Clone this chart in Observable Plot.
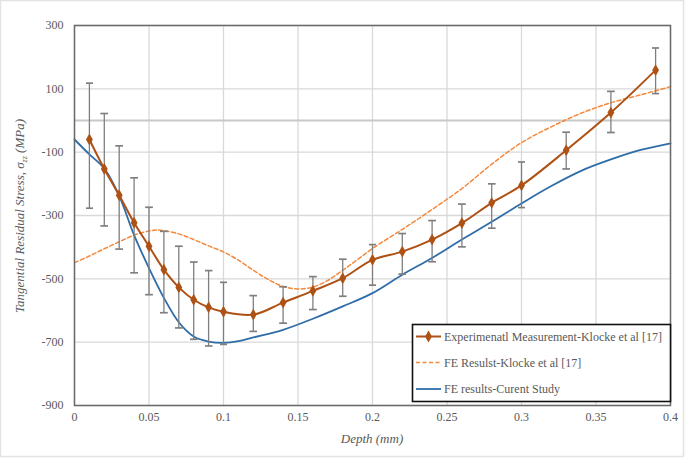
<!DOCTYPE html>
<html>
<head>
<meta charset="utf-8">
<script src="https://cdn.jsdelivr.net/npm/d3@7"></script>
<script src="https://cdn.jsdelivr.net/npm/@observablehq/plot@0.6"></script>
<style>
  html, body { margin: 0; padding: 0; background: #fff; }
  #chart { width: 685px; height: 458px; }
  #chart svg, #chart svg text, #chart svg tspan { font-family: "Liberation Serif", Times, "DejaVu Serif", serif !important; }
</style>
</head>
<body>
<div id="chart"></div>
<script>
// ---- Data ----
const xTicks = [0, 0.05, 0.1, 0.15, 0.2, 0.25, 0.3, 0.35, 0.4];
const yTicks = [-900, -700, -500, -300, -100, 100, 300];

// Experimental Measurement - Klocke et al [17]
const expDepth = [0.01, 0.02, 0.03, 0.04, 0.05, 0.06, 0.07, 0.08, 0.09, 0.10, 0.12, 0.14, 0.16, 0.18, 0.20, 0.22, 0.24, 0.26, 0.28, 0.30, 0.33, 0.36, 0.39];
const expStress = [-60, -153, -236, -323, -397, -471, -527, -566, -590, -604, -613, -575, -538, -498, -440, -414, -376, -324, -260, -205, -94, 25, 159];
const expHigh = [118, 22, -80, -181, -274, -350, -397, -447, -474, -511, -553, -525, -493, -438, -392, -357, -316, -264, -200, -131, -37, 92, 229];
const expLow = [-277, -333, -406, -481, -550, -607, -655, -691, -712, -707, -666, -640, -597, -555, -520, -485, -446, -399, -340, -275, -153, -38, 85];

// FE Results - Klocke et al [17]
const feKlockeDepth = [0, 0.01, 0.02, 0.03, 0.04, 0.05, 0.055, 0.06, 0.07, 0.08, 0.09, 0.10, 0.11, 0.12, 0.13, 0.14, 0.15, 0.16, 0.17, 0.18, 0.19, 0.20, 0.22, 0.24, 0.26, 0.28, 0.30, 0.32, 0.34, 0.36, 0.38, 0.40];
const feKlockeStress = [-449, -428, -405, -383, -362, -349, -346, -348, -358, -376, -396, -415, -441, -473, -502, -524, -532, -526, -505, -473, -439, -404, -344, -281, -215, -138, -70, -20, 23, 56, 81, 107];

// FE results - Current Study
const feCurrentDepth = [0, 0.01, 0.02, 0.03, 0.04, 0.05, 0.06, 0.07, 0.08, 0.09, 0.10, 0.11, 0.12, 0.14, 0.16, 0.18, 0.20, 0.22, 0.24, 0.26, 0.28, 0.30, 0.32, 0.34, 0.36, 0.38, 0.40];
const feCurrentStress = [-60, -107, -152, -238, -362, -466, -560, -637, -682, -698, -702, -697, -685, -661, -626, -587, -545, -487, -434, -376, -320, -262, -207, -159, -123, -93, -72];

const seriesNames = ["Experimenatl Measurement-Klocke et al [17]", "FE Resulst-Klocke et al [17]", "FE results-Curent Study"];
const seriesColors = ["#AE5114", "#F4883A", "#2F6DA8"];

// ---- Tables built from the arrays ----
const exp = expDepth.map((d, i) => ({x: d, y: expStress[i], hi: expHigh[i], lo: expLow[i]}));
const feK = feKlockeDepth.map((d, i) => ({x: d, y: feKlockeStress[i]}));
const feC = feCurrentDepth.map((d, i) => ({x: d, y: feCurrentStress[i]}));

const fmtX = d => String(+d.toFixed(2));
const fmtY = d => String(d);
const FONT = "'Liberation Serif', Times, 'DejaVu Serif', serif";

const chart = Plot.plot({
  width: 685,
  height: 458,
  marginLeft: 74,
  marginRight: 15,
  marginTop: 25,
  marginBottom: 53,
  style: {fontSize: "12px", color: "#595959", background: "#fff"},
  x: {domain: [0, 0.4], label: null},
  y: {domain: [-900, 300], label: null},
  marks: [
    Plot.gridX(xTicks, {stroke: "#d9d9d9", strokeOpacity: 1, strokeWidth: 1.3}),
    Plot.gridY(yTicks, {stroke: "#d9d9d9", strokeOpacity: 1, strokeWidth: 1.3}),
    Plot.ruleY([0], {stroke: "#c8c8c8", strokeWidth: 2}),
    Plot.axisX(xTicks, {tickSize: 0, tickPadding: 7, tickFormat: fmtX, fontSize: 12, label: null}),
    Plot.axisY(yTicks, {tickSize: 0, tickPadding: 11, tickFormat: fmtY, fontSize: 12, label: null}),
    Plot.line(feK, {x: "x", y: "y", stroke: seriesColors[1], strokeWidth: 1.5, strokeDasharray: "4,2.5", curve: "catmull-rom"}),
    Plot.line(feC, {x: "x", y: "y", stroke: seriesColors[2], strokeWidth: 1.8, curve: "catmull-rom"}),
    Plot.link(exp, {x1: "x", x2: "x", y1: "lo", y2: "hi", stroke: "#7f7f7f", strokeWidth: 1.3, markerStart: "tick", markerEnd: "tick"}),
    Plot.line(exp, {x: "x", y: "y", stroke: seriesColors[0], strokeWidth: 2, curve: "catmull-rom"}),
    Plot.dot(exp, {x: "x", y: "y", symbol: "diamond", r: 3.6, fill: seriesColors[0], stroke: "none"}),
    Plot.frame({stroke: "#6a6a6a", strokeWidth: 1.5})
  ]
});

document.getElementById("chart").appendChild(chart);

// ---- Titles, legend, outer border ----
const svg = d3.select(chart);
svg.append("rect")
  .attr("x", 0.5).attr("y", 0.5).attr("width", 683).attr("height", 456)
  .attr("fill", "none").attr("stroke", "#e3e3e3").attr("stroke-width", 1.5);

svg.append("text")
  .attr("x", 372).attr("y", 443)
  .attr("text-anchor", "middle")
  .attr("font-style", "italic")
  .attr("font-size", 13)
  .attr("fill", "#595959")
  .text("Depth (mm)");

const yt = svg.append("text")
  .attr("transform", "translate(24,216) rotate(-90)")
  .attr("text-anchor", "middle")
  .attr("font-style", "italic")
  .attr("font-size", 13)
  .attr("fill", "#595959");
yt.append("tspan").text("Tangential Residual Stress, σ");
yt.append("tspan").attr("font-size", 8).attr("dy", 3).text("zz");
yt.append("tspan").attr("dy", -3).text(" (MPa)");

const lg = svg.append("g").attr("font-size", 12).attr("fill", "#595959").attr("text-anchor", "start");
lg.append("rect")
  .attr("x", 412.5).attr("y", 324.5).attr("width", 258).attr("height", 77)
  .attr("fill", "#fff").attr("stroke", "#111").attr("stroke-width", 1.6);
const rowY = [336.5, 362.5, 389];
const dashes = [null, "4,2.5", null];
const widths = [2, 1.5, 1.8];
seriesNames.forEach((name, i) => {
  lg.append("line")
    .attr("x1", 416).attr("x2", 441).attr("y1", rowY[i]).attr("y2", rowY[i])
    .attr("stroke", seriesColors[i]).attr("stroke-width", widths[i])
    .attr("stroke-dasharray", dashes[i]);
  lg.append("text")
    .attr("x", 444).attr("y", rowY[i]).attr("dy", "0.35em")
    .attr("text-anchor", "start")
    .text(name);
});
lg.append("path")
  .attr("transform", `translate(428.5,${rowY[0]})`)
  .attr("d", d3.symbol(d3.symbolDiamond, 40)())
  .attr("fill", seriesColors[0]);

// force the serif family on every text node
svg.attr("font-family", FONT).style("font-family", FONT, "important");
svg.selectAll("text, tspan").attr("font-family", FONT).style("font-family", FONT, "important");
</script>
</body>
</html>
